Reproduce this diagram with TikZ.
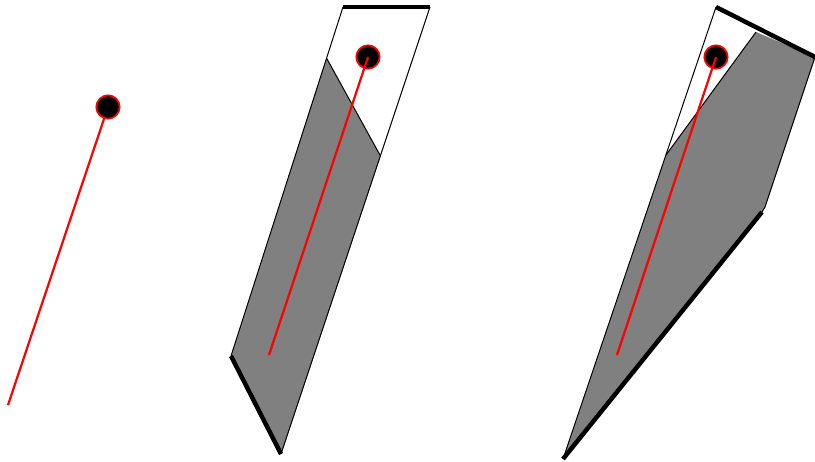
\documentclass[tikz,border=0pt]{standalone}
\usepackage{tikz}

\begin{document}
\begin{tikzpicture}[x=0.3mm, y=-0.3mm,
      edge/.style={line width=0.85pt, line join=round},
      cutedge/.style={line width=3.8pt},
      shade/.style={fill=gray},
      rod/.style={red, line width=1.9pt},
      joint/.style={circle, fill=black, draw=red, line width=1.5pt,
                    minimum size=7mm, inner sep=0pt}]
    \useasboundingbox (0,0) rectangle (815,462);

    % panel 1
    \coordinate (foot1) at (8,405);
    \coordinate (hub1) at (108,107);
    \draw[rod] (foot1) -- (hub1);
    \node[joint] (joint1) at (hub1) {};

    % panel 2
    \coordinate (p2a) at (343,7);
    \coordinate (p2b) at (430,7);
    \coordinate (p2c) at (281,454);
    \coordinate (p2d) at (231,356);
    \coordinate (g2a) at (326.5,58);
    \coordinate (g2b) at (380.5,156);
    \fill[shade] (g2a) -- (g2b) -- (p2c) -- (p2d) -- cycle;
    \draw[edge] (p2d) -- (p2a);
    \draw[edge] (p2b) -- (p2c);
    \draw[edge] (g2a) -- (g2b);
    \draw[cutedge] (p2a) -- (p2b);
    \draw[cutedge] (p2c) -- (p2d);
    \node[joint] (joint2) at (368,57) {};
    \coordinate (foot2) at (269,355);
    \draw[rod] (foot2) -- (joint2.center);

    % panel 3
    \coordinate (p3a) at (716,7);
    \coordinate (p3b) at (815,57);
    \coordinate (p3c) at (765,207);
    \coordinate (p3d) at (762,212);
    \coordinate (p3e) at (563,459);
    \coordinate (g3a) at (666,155);
    \coordinate (g3b) at (756,32);
    \fill[shade] (g3a) -- (g3b) -- (p3b) -- (p3c) -- (p3d) -- (p3e) -- cycle;
    \draw[edge] (p3e) -- (p3a);
    \draw[edge] (p3b) -- (p3c) -- (p3d);
    \draw[edge] (g3a) -- (g3b);
    \draw[cutedge] (p3a) -- (p3b);
    \draw[cutedge] (p3d) -- (p3e);
    \node[joint] (joint3) at (716,57) {};
    \coordinate (foot3) at (617,355);
    \draw[rod] (foot3) -- (joint3.center);
\end{tikzpicture}
\end{document}
